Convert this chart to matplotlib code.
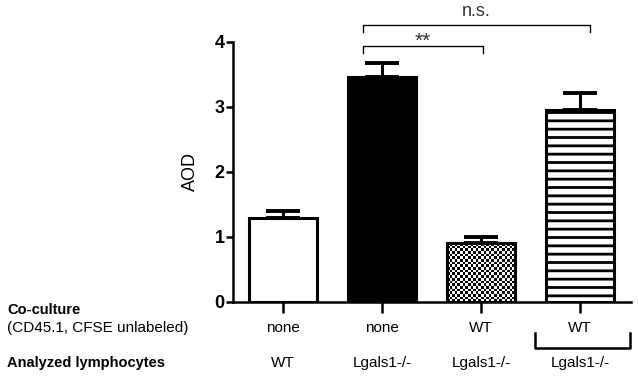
#!/usr/bin/env python3
import numpy as np
import matplotlib
matplotlib.use('Agg')
import matplotlib.pyplot as plt
import matplotlib.transforms as mtransforms

# data
groups = ['g1', 'g2', 'g3', 'g4']
aod_mean = [1.29, 3.45, 0.90, 2.95]
aod_sem = [0.11, 0.22, 0.10, 0.26]
coculture = ['none', 'none', 'WT', 'WT']
analyzed = ['WT', 'Lgals1-/-', 'Lgals1-/-', 'Lgals1-/-']
yticks = [0, 1, 2, 3, 4]

plt.rcParams['font.family'] = ['Liberation Sans', 'DejaVu Sans']
plt.rcParams['hatch.linewidth'] = 2.0

fig = plt.figure(figsize=(6.38, 3.78), dpi=100)
ax = fig.add_axes([233/638, 1-302/378, (631-233)/638, (302-41.7)/378])

x = np.arange(len(groups))
bw = 0.68
lw = 2.2
bars = ax.bar(x, aod_mean, width=bw, color='white', edgecolor='black',
              linewidth=lw, zorder=3)
bars[1].set_facecolor('black')
bars[3].set_hatch('--')

# error bars, upper only
ax.errorbar(x, aod_mean, yerr=[np.zeros(len(x)), aod_sem], fmt='none',
            ecolor='black', elinewidth=2.2, capsize=12.5, capthick=2.8, zorder=2)

# checkerboard fill for the third bar
n_w, n_h = 26, 22
checker = (np.indices((n_h, n_w)).sum(axis=0) % 2).astype(float)
b = bars[2]
im = ax.imshow(checker, cmap='gray_r', interpolation='nearest', aspect='auto',
               extent=[b.get_x(), b.get_x() + b.get_width(), 0, b.get_height()],
               zorder=3.5, vmin=0, vmax=1)
im.set_clip_path(b)
ax.bar(x[2], aod_mean[2], width=bw, color='none', edgecolor='black',
       linewidth=lw, zorder=4)

ax.set_xlim(-0.505, 3.515)
ax.set_ylim(0, 4)
ax.set_yticks(yticks)
ax.set_yticklabels([str(t) for t in yticks], fontsize=13, fontweight='bold')
ax.set_xticks(x)
ax.set_xticklabels([])
ax.tick_params(axis='y', length=5, width=1.8, pad=1)
ax.tick_params(axis='x', length=8, width=1.8, direction='out')
for s in ['top', 'right']:
    ax.spines[s].set_visible(False)
ax.spines['left'].set_linewidth(1.8)
ax.spines['bottom'].set_linewidth(1.8)
ax.set_ylabel('AOD', fontsize=13, labelpad=11)

# significance brackets
def bracket(x0, x1, y, h, label, ty, fs):
    ax.plot([x0, x0, x1, x1], [y - h, y, y, y - h], color='black', lw=1.0,
            clip_on=False)
    ax.text((x0 + x1) / 2, ty, label, ha='center', va='center', fontsize=fs,
            color='#333333')

bracket(x[1] - 0.19, x[3] + 0.1, 4.25, 0.1, 'n.s.', 4.47, 13)
bracket(x[1] - 0.19, x[2] + 0.02, 3.93, 0.1, '**', 4.0, 15)

# row labels under the axis
trans = mtransforms.blended_transform_factory(ax.transData, fig.transFigure)
for i in range(len(groups)):
    fig.text(x[i], 1-328/378, coculture[i], transform=trans, ha='center',
             va='center', fontsize=11)
    fig.text(x[i], 1-363/378, analyzed[i], transform=trans, ha='center',
             va='center', fontsize=11)

fig.text(7/638, 1-310/378, 'Co-culture', fontsize=10.5, fontweight='bold',
         va='center')
fig.text(7/638, 1-328/378, '(CD45.1, CFSE unlabeled)', fontsize=11,
         va='center')
fig.text(7/638, 1-363/378, 'Analyzed lymphocytes', fontsize=10.5,
         fontweight='bold', va='center')

# bracket grouping the last column
ax.plot([x[3] - 0.45, x[3] - 0.45, x[3] + 0.5, x[3] + 0.5],
        [-0.48, -0.7, -0.7, -0.48], transform=ax.transData, color='black',
        lw=1.8, clip_on=False)

fig.savefig('out.png', dpi=100)
